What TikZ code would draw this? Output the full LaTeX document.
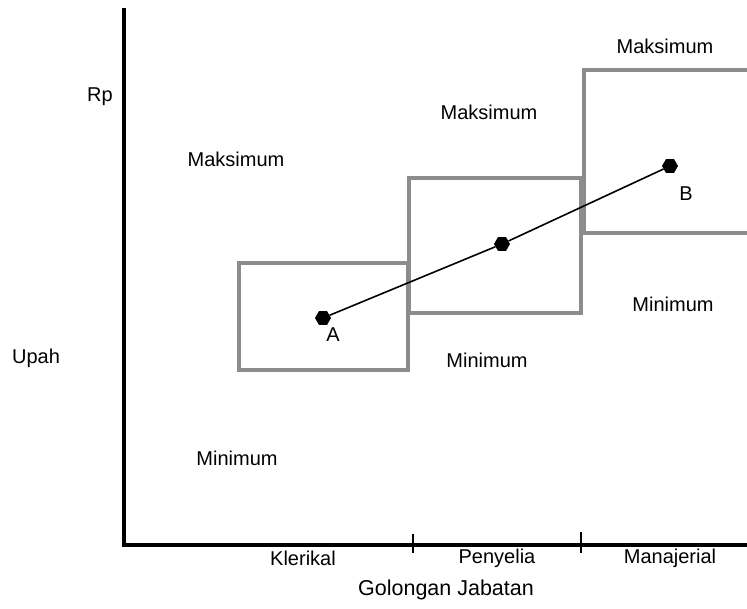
\documentclass[tikz,border=0pt]{standalone}
\usepackage{fontspec}
\setmainfont{Liberation Sans}
\usetikzlibrary{shapes.geometric}
\begin{document}
\begin{tikzpicture}[x=1pt,y=-1pt,
  axis/.style={line width=4pt},
  band/.style={draw=black!45,line width=4pt},
  dot/.style={regular polygon,regular polygon sides=6,fill=black,inner sep=0pt,minimum size=16pt},
  lbl/.style={font=\fontsize{20}{24}\selectfont,inner sep=0pt}]
\useasboundingbox (0,0) rectangle (747,608);
% axes
\coordinate (top) at (124,10);
\coordinate (origin) at (124,545);
\coordinate (right) at (747,545);
\draw[axis,line cap=rect] (top) -- (origin) -- (right);
% tick marks on the job-grade axis
\coordinate (t1a) at (413,534); \coordinate (t1b) at (413,553);
\coordinate (t2a) at (581,532); \coordinate (t2b) at (581,553);
\draw[line width=1.3pt] (t1a) -- (t1b);
\draw[line width=1.3pt] (t2a) -- (t2b);
% salary bands
\draw[band] (239,263) rectangle (408,370);
\draw[band] (409,178) rectangle (581,313);
\draw[band] (760,70) -- (584,70) -- (584,233) -- (760,233);
% midpoints and trend line
\node[dot] (A) at (323,318) {};
\node[dot] (M) at (502,244) {};
\node[dot] (B) at (670,166) {};
\draw[line width=1.6pt] (A) -- (M) -- (B);
% labels
\node[lbl] (rp) at (100,97) {Rp};
\node[lbl] (upah) at (36,358) {Upah};
\node[lbl] (max1) at (236,159) {Maksimum};
\node[lbl] (max2) at (489,112) {Maksimum};
\node[lbl] (max3) at (665,46) {Maksimum};
\node[lbl] (min1) at (237,458) {Minimum};
\node[lbl] (min2) at (487,360) {Minimum};
\node[lbl] (min3) at (673,304) {Minimum};
\node[lbl] (la) at (333,335) {A};
\node[lbl] (lb) at (686,194) {B};
\node[lbl] (g1) at (303,558) {Klerikal};
\node[lbl] (g2) at (497,558) {Penyelia};
\node[lbl] (g3) at (670,558) {Manajerial};
\node[lbl,font=\fontsize{21.5}{24}\selectfont] (gj) at (446,590) {Golongan Jabatan};
\end{tikzpicture}
\end{document}
